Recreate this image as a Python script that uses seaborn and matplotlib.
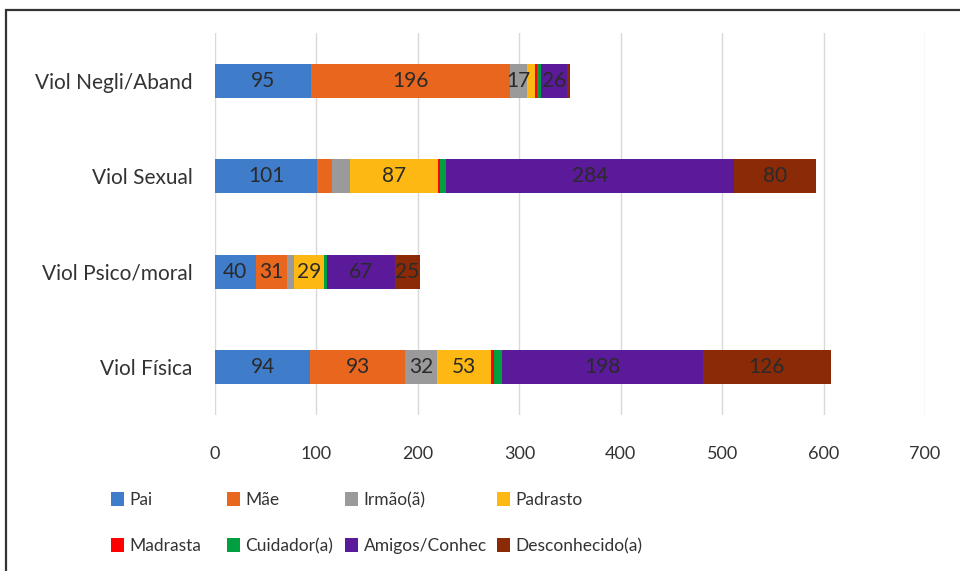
import numpy as np
import pandas as pd
import matplotlib
matplotlib.use("Agg")
import matplotlib.pyplot as plt
from matplotlib.patches import Patch, Rectangle
import seaborn as sns

# Violence type (rows, top to bottom) and aggressor (stacked segments)
categories = ["Viol Negli/Aband", "Viol Sexual", "Viol Psico/moral", "Viol Física"]
aggressors = ["Pai", "Mãe", "Irmão(ã)", "Padrasto", "Madrasta",
              "Cuidador(a)", "Amigos/Conhec", "Desconhecido(a)"]

pai = [95, 101, 40, 94]
mae = [196, 14, 31, 93]
irmao = [17, 18, 7, 32]
padrasto = [7, 87, 29, 53]
madrasta = [2, 2, 0, 3]
cuidador = [4, 6, 3, 8]
amigos = [26, 284, 67, 198]
desconhecido = [3, 80, 25, 126]

# which segment values carry a printed label
show_pai = [True, True, True, True]
show_mae = [True, False, True, True]
show_irmao = [True, False, False, True]
show_padrasto = [False, True, True, True]
show_madrasta = [False, False, False, False]
show_cuidador = [False, False, False, False]
show_amigos = [True, True, True, True]
show_desconhecido = [False, True, True, True]

colors = ["#3F7DCB", "#E8661E", "#9A9A9A", "#FDB813",
          "#FF0000", "#00A040", "#5B1A9A", "#8A2A06"]

series = [pai, mae, irmao, padrasto, madrasta, cuidador, amigos, desconhecido]
shows = [show_pai, show_mae, show_irmao, show_padrasto, show_madrasta,
         show_cuidador, show_amigos, show_desconhecido]

sns.set_theme(style="white")
plt.rcParams["font.family"] = ["Lato", "DejaVu Sans"]

fig = plt.figure(figsize=(9.6, 5.71), dpi=100)
ax = fig.add_axes([0.224, 0.2732, 0.7396, 0.669])

values = np.array(series, dtype=float)
cum = np.cumsum(values, axis=0)

# Stacked bars: draw cumulative totals from the outermost segment inward
for i in range(len(aggressors) - 1, -1, -1):
    df = pd.DataFrame({"categoria": categories, "total": cum[i]})
    sns.barplot(data=df, x="total", y="categoria", orient="h",
                color=colors[i], saturation=1, width=0.36,
                edgecolor="none", linewidth=0, ax=ax, zorder=3)

# Segment value labels at the middle of each visible segment
for i in range(len(aggressors)):
    for j in range(len(categories)):
        if shows[i][j]:
            xc = cum[i][j] - values[i][j] / 2
            ax.text(xc, j, f"{int(values[i][j])}", ha="center", va="center",
                    fontsize=15, color="#2a2a2a", zorder=5)

ax.set_xlim(0, 700)
ax.set_ylim(3.5, -0.5)
ax.set_xticks(np.arange(0, 701, 100))
ax.set_xlabel("")
ax.set_ylabel("")
ax.grid(axis="x", color="#D9D9D9", linewidth=1, zorder=0)
ax.grid(axis="y", visible=False)
ax.set_axisbelow(True)
for s in ax.spines.values():
    s.set_visible(False)
ax.tick_params(axis="x", length=0, pad=22, labelsize=13, labelcolor="#333333")
ax.tick_params(axis="y", length=0, pad=16, labelsize=15, labelcolor="#333333")

# Legend: four columns of two entries each, filled row by row
col_x = [0.103, 0.224, 0.347, 0.505]
for c in range(4):
    pair = [c, c + 4]
    handles = [Patch(facecolor=colors[k], edgecolor="none", label=aggressors[k]) for k in pair]
    fig.legend(handles=handles, loc="center left", bbox_to_anchor=(col_x[c], 0.084),
               ncol=1, frameon=False, handlelength=0.75, handleheight=0.9,
               handletextpad=0.3, labelspacing=1.7, borderpad=0.2,
               labelcolor="#333333", fontsize=12.5)

# Outer frame around the chart
fig.add_artist(Rectangle((0.006, -0.2), 1.2, 1.182, transform=fig.transFigure,
                         fill=False, edgecolor="#333333", linewidth=1.6, clip_on=False))

fig.savefig("out.png", dpi=100, facecolor="white")
